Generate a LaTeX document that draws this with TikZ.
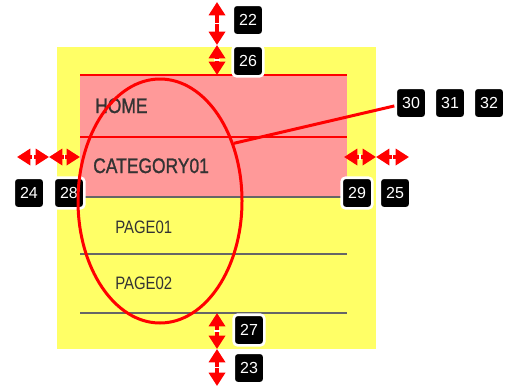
\documentclass[tikz,border=0pt]{standalone}
\usepackage{fontspec}
\usepackage{tikz}
\usetikzlibrary{arrows.meta,shapes.geometric}

\newfontfamily\menufont[FakeStretch=0.83]{Liberation Sans}
\newfontfamily\menuboldfont[FakeStretch=0.83,FakeBold=1.2]{Liberation Sans}
\newfontfamily\badgefont{Liberation Sans}
\definecolor{menuyellow}{HTML}{FFFF66}
\definecolor{menupink}{HTML}{FF9999}
\definecolor{menutext}{HTML}{333333}
\definecolor{menuline}{HTML}{666666}

\begin{document}
\begin{tikzpicture}[x=0.75pt,y=-0.75pt]
            \useasboundingbox (0,0) rectangle (516,389);

            % menu box
            \fill[menuyellow] (57,47) rectangle (376,349);
            \fill[menupink] (80,75) rectangle (347,197);
            \draw[red,line width=0.8pt] (80,75) -- (347,75);
            \draw[red,line width=0.8pt] (80,137) -- (347,137);
            \draw[menuline,line width=0.8pt] (80,197) -- (347,197);
            \draw[menuline,line width=0.8pt] (80,254) -- (347,254);
            \draw[menuline,line width=0.8pt] (80,313) -- (347,313);

            \begin{scope}[every node/.style={anchor=base west,inner sep=0pt,text=menutext}]
                \node (home) at (95,113) {\menuboldfont\fontsize{15.75}{18}\selectfont HOME};
                \node (cat) at (93,173) {\menuboldfont\fontsize{15.75}{18}\selectfont CATEGORY01};
                \node (page1) at (115,233) {\menufont\fontsize{13.5}{16}\selectfont PAGE01};
                \node (page2) at (115,289) {\menufont\fontsize{13.5}{16}\selectfont PAGE02};
            \end{scope}

            % ends of the red measuring arrows
            \coordinate (t0) at (217,2);
            \coordinate (t1) at (217,45);
            \coordinate (t2) at (217,75);
            \coordinate (l0) at (17,157);
            \coordinate (l1) at (49,157);
            \coordinate (l2) at (80,157);
            \coordinate (r0) at (344,157);
            \coordinate (r1) at (376,157);
            \coordinate (r2) at (409,157);
            \coordinate (d0) at (217,313);
            \coordinate (d1) at (217,349);
            \coordinate (d2) at (217,386);

            \begin{scope}[>={Triangle[length=10pt,width=12pt]},
                          every node/.style={fill=white,inner sep=0pt,sloped,
                                             minimum width=0.9pt,minimum height=5pt},
                          every edge/.style={draw=red,line width=2.5pt}]
                \path [<->] (t0) edge node {} (t1);
                \path [<->] (t1) edge node {} (t2);
                \path [<->] (l0) edge node {} (l1);
                \path [<->] (l1) edge node {} (l2);
                \path [<->] (r0) edge node {} (r1);
                \path [<->] (r1) edge node {} (r2);
                \path [<->] (d0) edge node {} (d1);
                \path [<->] (d1) edge node {} (d2);
            \end{scope}

            \begin{scope}[every node/.style={fill=black,draw=white,line width=2pt,
                          rounded corners=3pt,minimum size=23pt,inner sep=0pt,text=white,
                          font=\badgefont\fontsize{12}{12}\selectfont}]
                \node (b22) at (248,20) {22};
                \node (b26) at (248,61) {26};
                \node (b30) at (411,103) {30};
                \node (b31) at (450,103) {31};
                \node (b32) at (489,103) {32};
                \node (b24) at (29,193) {24};
                \node (b28) at (69,193) {28};
                \node (b29) at (357,193) {29};
                \node (b25) at (395,193) {25};
                \node (b27) at (249,330) {27};
                \node (b23) at (249,368) {23};
            \end{scope}

            % the marked part
            \node[ellipse,draw=red,line width=2.25pt,inner sep=0pt,
                  minimum width=123pt,minimum height=183pt] (circ) at (160,201) {};
            \draw[red,line width=2.25pt] (circ.38) -- (b30.190);
            \end{tikzpicture}
\end{document}
